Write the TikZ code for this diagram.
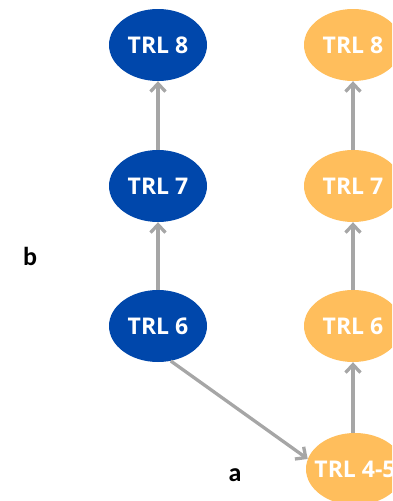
\documentclass[tikz,border=0pt]{standalone}
\usepackage{fontspec}
\setmainfont{Open Sans}
\newfontfamily\lblfont{Carlito}
\usetikzlibrary{arrows.meta,shapes.geometric}
\definecolor{trlblue}{HTML}{0047AB}
\definecolor{trlorange}{HTML}{FFBE5C}
\definecolor{conngray}{HTML}{A6A6A6}
\begin{document}
\begin{tikzpicture}[x=1pt,y=-1pt,
  trltext/.style={font=\fontsize{23}{23}\selectfont\bfseries, text=white},
  trlnode/.style={ellipse, minimum width=98pt, minimum height=72pt, inner sep=0pt, trltext},
  bluenode/.style={trlnode, fill=trlblue},
  orangenode/.style={trlnode, fill=trlorange},
  conn/.style={draw=conngray, line width=3.3pt, line join=round,
    -{Straight Barb[length=8pt,width=15pt,line width=3.3pt]}},
  lbl/.style={font=\lblfont\fontsize{26}{26}\selectfont\bfseries}]
\useasboundingbox (0,0) rectangle (392,501);
\clip (0,0) rectangle (392,501);
\node[bluenode] (b8) at (158,45) {TRL 8};
\node[bluenode] (b7) at (158,186) {TRL 7};
\node[bluenode] (b6) at (158,326) {TRL 6};
\node[orangenode] (o8) at (353,45) {TRL 8};
\node[orangenode] (o7) at (353,186) {TRL 7};
\node[orangenode] (o6) at (353,326) {TRL 6};
\node[orangenode, label={[trltext]center:TRL 4-5}] (o45) at (355,469) {};
\node[lbl] (lb) at (30,256) {b};
\node[lbl] (la) at (235,475) {a};
\draw[conn] (b6) -- (b7);
\draw[conn] (b7) -- (b8);
\draw[conn] (o6 |- o45.north) -- (o6);
\draw[conn] (o6) -- (o7);
\draw[conn] (o7) -- (o8);
\draw[conn] (b6.-70) -- (o45.168);
\end{tikzpicture}
\end{document}
